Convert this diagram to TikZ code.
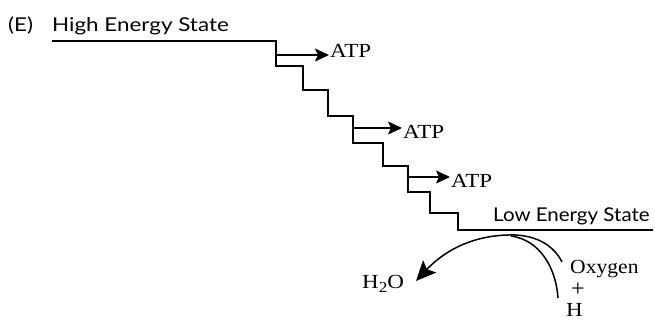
\documentclass[tikz,border=0pt]{standalone}
\usepackage{fontspec}
\usepackage{graphicx}
\setmainfont{Liberation Serif}
\newfontfamily\labelfont{Lato}
\usetikzlibrary{arrows.meta}
\newcommand{\widentext}[1]{\scalebox{1.15}[1]{#1}}
\newcommand{\widelabel}[1]{\scalebox{1.18}[1]{#1}}
\begin{document}
\begin{tikzpicture}[x=1pt,y=-1pt,
  stair/.style={line width=2pt,line join=miter},
  atparrow/.style={line width=1.6pt,-{Stealth[length=14pt,width=13pt,inset=3pt]}},
  curve/.style={line width=1.5pt},
  waterarrow/.style={line width=1.5pt,-{Stealth[length=20pt,width=18pt,inset=4pt]}},
  lbl/.style={font=\labelfont\fontsize{19}{19}\selectfont,anchor=base west,inner sep=0pt},
  chem/.style={font=\fontsize{20}{20}\selectfont,anchor=base west,inner sep=0pt}]
\useasboundingbox (0,0) rectangle (655,321);
\fill[white] (0,0) rectangle (655,321);
% staircase
\coordinate (hs) at (52,41);
\coordinate (ls) at (653,230);
\coordinate (a1) at (276,55);
\coordinate (a2) at (353,128);
\coordinate (a3) at (408,177);
\draw[stair] (hs) -- (276,41) -- (276,66) -- (303,66) -- (303,90) -- (328,90) -- (328,116)
  -- (353,116) -- (353,143) -- (383,143) -- (383,166) -- (408,166) -- (408,192)
  -- (430,192) -- (430,213) -- (458,213) -- (458,230) -- (ls);
% labels
\node[lbl] (e) at (8,32) {\widelabel{(E)}};
\node[lbl] (high) at (52,32) {\widelabel{High Energy State}};
\node[lbl] (low) at (493,221) {\scalebox{1.08}[1]{Low Energy State}};
% ATP
\node[chem] (atp1) at (330,57) {\widentext{ATP}};
\node[chem] (atp2) at (403,138) {\widentext{ATP}};
\node[chem] (atp3) at (451,187) {\widentext{ATP}};
\draw[atparrow] (a1) -- ([xshift=-1pt]atp1.west |- a1);
\draw[atparrow] (a2) -- ([xshift=-1pt]atp2.west |- a2);
\draw[atparrow] (a3) -- ([xshift=-1pt]atp3.west |- a3);
% chemistry
\node[chem] (h2o) at (362,288) {\widentext{H\raisebox{-4pt}{\fontsize{15}{15}\selectfont 2}O}};
\node[chem] (oxy) at (570,273) {\scalebox{1.08}[1]{Oxygen}};
\node[chem,anchor=center,font=\fontsize{24}{24}\selectfont] (plus) at (578,290) {+};
\node[chem] (hyd) at (566,316) {\widentext{H}};
\coordinate (top) at (515,235);
\coordinate (oxend) at (562,262);
\coordinate (hend) at (558,298);
\coordinate (tip) at (416,281);
\draw[waterarrow] (top) .. controls (475,234) and (445,250) .. (tip);
\draw[curve] (top) .. controls (540,236) and (555,248) .. (oxend);
\draw[curve] (511,236) .. controls (540,240) and (556,268) .. (hend);
\end{tikzpicture}
\end{document}
